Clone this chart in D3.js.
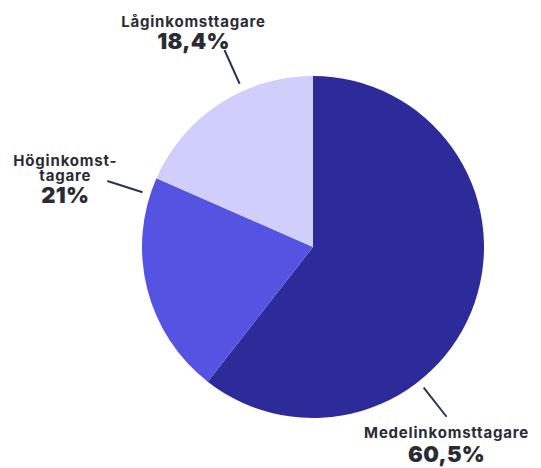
<!DOCTYPE html>
<html>
<head>
<meta charset="utf-8">
<script src="https://cdn.jsdelivr.net/npm/d3@7"></script>
<style>
  body { margin: 0; background: #fff; }
  svg text { font-family: Inter, "Noto Sans", sans-serif; fill: #2b2b35; }
</style>
</head>
<body>
<div id="chart"></div>
<script>
// Data
const categories = ["Medelinkomsttagare", "Höginkomsttagare", "Låginkomsttagare"];
const shares = [60.5, 21, 18.4];
const valueLabels = ["60,5%", "21%", "18,4%"];

const width = 541, height = 468;
const cx = 313, cy = 247, radius = 171;

const colors = d3.scaleOrdinal()
    .domain(categories)
    .range(["#2c2b99", "#5553e2", "#d0cefa"]);

// Label layout: angle of leader line (degrees clockwise from top), text offset
const labelLayout = {
    "Medelinkomsttagare": { angle: 141.8, dx: 0, dy: 21, gap: 24, lines: ["Medelinkomsttagare"] },
    "Höginkomsttagare": { angle: 287.8, dx: -42, dy: 0, gap: 22, lines: ["Höginkomst-", "tagare"] },
    "Låginkomsttagare": { angle: 335.8, dx: -31, dy: -23, gap: 22, lines: ["Låginkomsttagare"] }
};

const svg = d3.select("#chart")
    .append("svg")
    .attr("width", width)
    .attr("height", height);

const pie = d3.pie()
    .sort(null)
    .value(d => d.value);

const arcs = pie(categories.map((c, i) => ({ name: c, value: shares[i], label: valueLabels[i] })));

const arc = d3.arc().innerRadius(0).outerRadius(radius);

const g = svg.append("g").attr("transform", `translate(${cx},${cy})`);

g.selectAll("path")
    .data(arcs)
    .join("path")
    .attr("d", arc)
    .attr("fill", d => colors(d.data.name));

// Leader lines + labels
const polar = (r, deg) => {
    const a = deg * Math.PI / 180;
    return [r * Math.sin(a), -r * Math.cos(a)];
};

arcs.forEach(d => {
    const lay = labelLayout[d.data.name];
    const p1 = polar(radius + 8, lay.angle);
    const p2 = polar(radius + 45, lay.angle);
    g.append("line")
        .attr("x1", p1[0]).attr("y1", p1[1])
        .attr("x2", p2[0]).attr("y2", p2[1])
        .attr("stroke", "#2e3352")
        .attr("stroke-width", 2);

    const tx = p2[0] + lay.dx, ty = p2[1] + lay.dy;
    const t = g.append("text")
        .attr("text-anchor", "middle")
        .attr("transform", `translate(${tx},${ty})`);
    const n = lay.lines.length;
    lay.lines.forEach((line, i) => {
        t.append("tspan")
            .attr("x", 0)
            .attr("y", (i - n + 1) * 15)
            .attr("font-size", 15)
            .attr("font-weight", 700)
            .attr("letter-spacing", 0.8)
            .text(line);
    });
    t.append("tspan")
        .attr("x", 0)
        .attr("y", lay.gap)
        .attr("font-size", 22)
        .attr("font-weight", 900)
        .attr("letter-spacing", 0.3)
        .text(d.data.label);
});
</script>
</body>
</html>
